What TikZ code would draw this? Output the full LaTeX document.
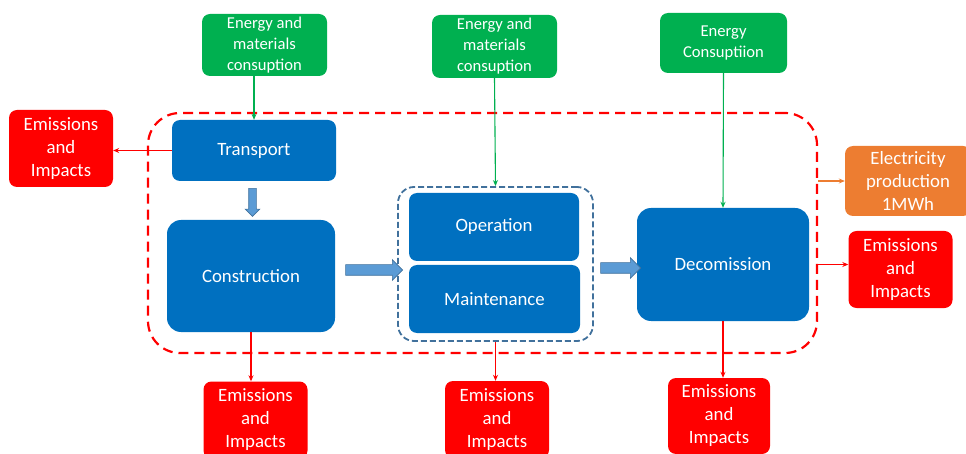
\documentclass[tikz,border=0pt]{standalone}
\usepackage{fontspec}
\setmainfont{Carlito}
\usetikzlibrary{arrows.meta,shapes.arrows,calc}

\definecolor{boxblue}{HTML}{0070C0}
\definecolor{boxgreen}{HTML}{00B050}
\definecolor{boxred}{HTML}{FF0000}
\definecolor{boxorange}{HTML}{ED7D31}
\definecolor{arrowblue}{HTML}{5B9BD5}
\definecolor{edgeblue}{HTML}{41719C}

\begin{document}
\begin{tikzpicture}[x=1pt,y=-1pt,
  box/.style={rounded corners=8pt, inner sep=0pt, align=center, text=white,
    font=\fontsize{18.8}{23}\selectfont},
  bluebox/.style={box, fill=boxblue},
  greenbox/.style={box, fill=boxgreen, font=\fontsize{16.6}{21}\selectfont},
  redbox/.style={box, fill=boxred, minimum width=104, minimum height=77},
  orangebox/.style={box, fill=boxorange},
  flow/.style={-{Stealth[length=6pt,width=5pt]}, line width=1.1pt},
  blockarrow/.style={single arrow, fill=arrowblue, draw=edgeblue, line width=0.6pt,
    inner xsep=0pt, inner ysep=5pt, single arrow head extend=5pt}
]

\useasboundingbox (0,0) rectangle (966,454);

% life cycle boundary
\node[draw=boxred, line width=2.2pt, dash pattern=on 10pt off 6pt, rounded corners=32pt,
  minimum width=669, minimum height=240] (lca) at (482.5,233) {};

% inputs
\node[greenbox, minimum width=125, minimum height=62] (need1) at (264.5,45) {Energy and\\materials\\consuption};
\node[greenbox, minimum width=125, minimum height=63] (need2) at (494.5,46.5) {Energy and\\materials\\consuption};
\node[greenbox, minimum width=127, minimum height=60] (need3) at (723.5,43) {Energy\\Consuptiion};

% stages
\node[bluebox, minimum width=164, minimum height=61] (transport) at (254,150.5) {Transport};
\node[bluebox, rounded corners=14pt, minimum width=168, minimum height=112] (construction) at (251,276) {Construction};
\node[bluebox, minimum width=170, minimum height=68] (operation) at (494,227) {Operation};
\node[bluebox, minimum width=171, minimum height=68] (maintenance) at (494.5,299) {Maintenance};
\node[bluebox, rounded corners=14pt, minimum width=172, minimum height=113] (decomission) at (723,264.5) {Decomission};

\node[draw=edgeblue, line width=1.8pt, dash pattern=on 6pt off 3pt, rounded corners=16pt,
  minimum width=195, minimum height=154] (usephase) at (495.5,264) {};

% outputs
\node[redbox] (emis1) at (61,148.5) {Emissions\\and\\Impacts};
\node[redbox] (emis2) at (255.5,420) {Emissions\\and\\Impacts};
\node[redbox] (emis3) at (497,419.5) {Emissions\\and\\Impacts};
\node[redbox, minimum width=102, minimum height=76] (emis4) at (719,416) {Emissions\\and\\Impacts};
\node[redbox] (emis5) at (900.5,269.5) {Emissions\\and\\Impacts};
\node[orangebox, minimum width=126, minimum height=70] (power) at (908,181) {Electricity\\production\\1MWh};

% block arrows between stages
\node[blockarrow, rotate=-90, inner ysep=3.5pt, single arrow head extend=3.5pt,
  minimum height=28] (step1) at ($(transport.south)!0.5!(construction.north)$) {};
\node[blockarrow, minimum height=57] (step2) at (371.5,270) {};
\node[blockarrow, minimum height=40] (step3) at (618,268) {};

% energy and materials
\draw[flow, boxgreen] (need1.south -| transport.north) -- (transport.north);
\draw[flow, boxgreen] (need2.south) -- (usephase.north);
\draw[flow, boxgreen] (need3.south) -- (decomission.north);

% emissions
\draw[flow, boxred] (transport.west) -- (transport.west -| emis1.east);
\draw[flow, boxred] (construction.south) -- (construction.south |- emis2.north);
\draw[flow, boxred] (usephase.south) -- (usephase.south |- emis3.north);
\draw[flow, boxred] (decomission.south) -- (decomission.south |- emis4.north);
\draw[flow, boxred] (lca.east |- decomission.east) -- (emis5.west |- decomission.east);
\draw[flow, boxorange] (lca.east |- power.west) -- (power.west);

\end{tikzpicture}
\end{document}
